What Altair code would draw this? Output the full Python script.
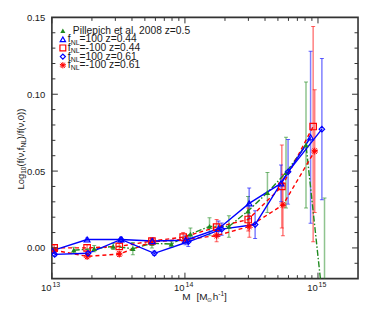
import altair as alt
import pandas as pd

# ---------------- data ----------------
# Pillepich et al. 2008 z=0.5 (green, filled triangles, dash-dot)
pil_m = [1.46e13, 2.08e13, 2.89e13, 4.06e13, 5.65e13, 7.91e13, 1.10e14, 1.53e14,
         2.14e14, 2.98e14, 4.17e14, 5.75e14, 8.13e14, 1.12e15]
pil_v = [-0.0015, -0.0005, 0.001, -0.0005, 0.003, 0.0025, 0.009, 0.014,
         0.014, 0.024, 0.036, 0.049, 0.067, -0.045]
pil_e = [0.002, 0.002, 0.002, 0.004, 0.003, 0.002, 0.004, 0.0057,
         0.007, 0.0095, 0.013, 0.023, 0.041, 0.0775]

# fNL=100 z=0.44 (blue open triangles, solid)
p44_m = [1.01e13, 1.84e13, 3.31e13, 5.68e13, 1.01e14, 1.79e14, 3.04e14, 5.27e14, 8.8e14]
p44_v = [-0.0018, 0.0055, 0.0055, 0.0045, 0.005, 0.0125, 0.029, 0.042, 0.072]
p44_e = [0.001, 0.001, 0.0015, 0.002, 0.003, 0.005, 0.010, 0.012, 0.056]

# fNL=-100 z=0.44 (red open squares, dashed)
m44_m = [1.04e13, 1.84e13, 3.21e13, 5.65e13, 9.7e13, 1.73e14, 2.99e14, 5.35e14, 9.2e14]
m44_v = [0.0, 0.0, 0.001, 0.0045, 0.007, 0.0135, 0.0185, 0.040, 0.079]
m44_eu = [0.002, 0.002, 0.002, 0.002, 0.003, 0.005, 0.0075, 0.027, 0.065]
m44_ed = [0.002, 0.002, 0.002, 0.002, 0.003, 0.005, 0.0075, 0.027, 0.075]

# fNL=100 z=0.61 (blue open diamonds, solid)
p61_m = [1.05e13, 1.87e13, 3.31e13, 5.89e13, 1.06e14, 1.89e14, 3.37e14, 5.96e14, 1.07e15]
p61_v = [-0.0042, -0.0035, 0.0055, -0.0035, 0.004, 0.0122, 0.0152, 0.0495, 0.0773]
p61_e = [0.001, 0.001, 0.0015, 0.0015, 0.003, 0.004, 0.009, 0.021, 0.046]

# fNL=-100 z=0.61 (red asterisks, dashed)
m61_m = [1.04e13, 1.84e13, 3.21e13, 5.65e13, 1.01e14, 1.73e14, 3.05e14, 5.45e14, 9.45e14]
m61_v = [-0.0015, -0.0055, -0.004, 0.004, 0.0055, 0.008, 0.014, 0.028, 0.063]
m61_e = [0.0015, 0.0015, 0.0015, 0.002, 0.002, 0.004, 0.007, 0.02, 0.04]

x_major = [1e13, 1e14, 1e15]
x_exp = ["13", "14", "15"]
x_minor = [2e13, 3e13, 4e13, 5e13, 6e13, 7e13, 8e13, 9e13,
           2e14, 3e14, 4e14, 5e14, 6e14, 7e14, 8e14, 9e14]
y_major = [0.0, 0.05, 0.10]
y_minor = [-0.01, 0.01, 0.02, 0.03, 0.04, 0.06, 0.07, 0.08, 0.09,
           0.11, 0.12, 0.13, 0.14]
y_labels = [0.0, 0.05, 0.10, 0.15]

# ---------------- styling ----------------
W, H = 307, 262
FONT = "Liberation Sans"
TXT = "#1a1a1a"
FR = "#333333"
GREEN, RED, BLUE = "#1f8a1f", "#ff0000", "#0000ff"
ASTERISK = "M0,-1L0,1M-0.95,-0.31L0.95,0.31M-0.95,0.31L0.95,-0.31M-0.59,-0.81L0.59,0.81M-0.59,0.81L0.59,-0.81"

xscale = alt.Scale(type="log", domain=[1e13, 2e15], nice=False)
yscale = alt.Scale(domain=[-0.02, 0.15], nice=False, zero=False)
yaxis = alt.Axis(values=y_labels, format=".2f", ticks=False, domain=False, grid=False,
                 title=None, labelFont=FONT, labelFontSize=9.5, labelColor=TXT,
                 labelPadding=7)


def frame(m, v, eu, ed):
    return pd.DataFrame({"M": m, "v": v,
                         "lo": [a - b for a, b in zip(v, ed)],
                         "hi": [a + b for a, b in zip(v, eu)]})


series = [
    (frame(pil_m, pil_v, pil_e, pil_e), GREEN, [6, 2, 1.5, 2], "triangle-up", True, 30, 1.2),
    (frame(m44_m, m44_v, m44_eu, m44_ed), RED, [4, 3], "square", False, 42, 1.2),
    (frame(m61_m, m61_v, m61_e, m61_e), RED, [4, 3], ASTERISK, False, 48, 1.0),
    (frame(p44_m, p44_v, p44_e, p44_e), BLUE, None, "triangle-up", False, 34, 1.2),
    (frame(p61_m, p61_v, p61_e, p61_e), BLUE, None, "diamond", False, 30, 1.2),
]

X = alt.X("M:Q", scale=xscale, axis=None)
layers = []

# error bars
for df, col, dash, shape, filled, size, sw in series:
    base = alt.Chart(df)
    layers.append(base.mark_rule(color=col, opacity=0.5, strokeWidth=1.5, clip=True).encode(
        x=X, y=alt.Y("lo:Q", scale=yscale, axis=yaxis), y2="hi:Q"))
    for f in ["lo", "hi"]:
        layers.append(base.mark_tick(color=col, opacity=0.6, orient="horizontal", size=4,
                                     thickness=1, clip=True).encode(
            x=X, y=alt.Y(f + ":Q", scale=yscale, axis=yaxis)))

# lines
for df, col, dash, shape, filled, size, sw in series:
    kw = dict(color=col, strokeWidth=1.4, clip=True)
    if dash:
        kw["strokeDash"] = dash
    layers.append(alt.Chart(df).mark_line(**kw).encode(
        x=X, y=alt.Y("v:Q", scale=yscale, axis=yaxis)))

# markers
for df, col, dash, shape, filled, size, sw in series:
    layers.append(alt.Chart(df).mark_point(color=col, shape=shape, filled=filled, size=size,
                                           strokeWidth=sw, opacity=1, clip=True).encode(
        x=X, y=alt.Y("v:Q", scale=yscale, axis=yaxis)))

# inward ticks on all four sides
xmaj = pd.DataFrame({"t": x_major})
xmin = pd.DataFrame({"t": x_minor})
ymaj = pd.DataFrame({"t": y_major})
ymin = pd.DataFrame({"t": y_minor})
for d, ln in [(xmaj, 6), (xmin, 3.5)]:
    layers.append(alt.Chart(d).mark_rule(color=FR, strokeWidth=1).encode(
        x=alt.X("t:Q", scale=xscale, axis=None), y=alt.value(H), y2=alt.value(H - ln)))
    layers.append(alt.Chart(d).mark_rule(color=FR, strokeWidth=1).encode(
        x=alt.X("t:Q", scale=xscale, axis=None), y=alt.value(0), y2=alt.value(ln)))
for d, ln in [(ymaj, 6), (ymin, 3.5)]:
    layers.append(alt.Chart(d).mark_rule(color=FR, strokeWidth=1).encode(
        y=alt.Y("t:Q", scale=yscale, axis=yaxis), x=alt.value(0), x2=alt.value(ln)))
    layers.append(alt.Chart(d).mark_rule(color=FR, strokeWidth=1).encode(
        y=alt.Y("t:Q", scale=yscale, axis=yaxis), x=alt.value(W), x2=alt.value(W - ln)))

# x tick labels 10^n
xl = pd.DataFrame({"t": x_major, "e": x_exp})
layers.append(alt.Chart(xl).mark_text(text="10", font=FONT, fontSize=9.5, color=TXT,
                                      align="right", baseline="alphabetic", dx=-0.3).encode(
    x=alt.X("t:Q", scale=xscale, axis=None), y=alt.value(H + 12.7)))
layers.append(alt.Chart(xl).mark_text(font=FONT, fontSize=7, color=TXT,
                                      align="left", baseline="alphabetic", dx=0.6).encode(
    x=alt.X("t:Q", scale=xscale, axis=None), y=alt.value(H + 8), text="e:N"))

dummy = pd.DataFrame({"a": [0]})


def txt(s, x, y, size, dx=0, dy=0, angle=0, baseline="middle"):
    return alt.Chart(dummy).mark_text(text=s, font=FONT, fontSize=size, color=TXT,
                                      align="left", baseline=baseline, dx=dx, dy=dy,
                                      angle=angle).encode(x=alt.value(x), y=alt.value(y))


# x title: M [M_sun h^-1]
tx, ty = 130.7, H + 21.5
layers += [
    txt("M", tx, ty, 10, baseline="alphabetic"),
    txt("[M", tx, ty, 10, dx=14.3, baseline="alphabetic"),
    txt("\u2299", tx, ty, 6.5, dx=25.0, dy=1.8, baseline="alphabetic"),
    txt("h", tx, ty, 10, dx=30.6, baseline="alphabetic"),
    txt("-1", tx, ty, 6.5, dx=36.2, dy=-4, baseline="alphabetic"),
    txt("]", tx, ty, 10, dx=41.8, baseline="alphabetic"),
]

# y title: Log10(f(nu,fNL)/f(nu,0)), rotated
ax_, ay_ = -31, 172.7
layers += [
    txt("Log", ax_, ay_, 9.5, angle=270),
    txt("10", ax_, ay_, 6.5, dx=15.8, dy=3, angle=270),
    txt("(f(\u03bd,f", ax_, ay_, 9.5, dx=23.2, angle=270),
    txt("NL", ax_, ay_, 6.5, dx=42.2, dy=3, angle=270),
    txt(")/f(\u03bd,0))", ax_, ay_, 9.5, dx=50.6, angle=270),
]

# legend
rows = [13.4, 22.0, 30.6, 39.3, 48.0]
leg = [
    (GREEN, "triangle-up", True, 26, 1.2),
    (BLUE, "triangle-up", False, 28, 1.2),
    (RED, "square", False, 34, 1.2),
    (BLUE, "diamond", False, 26, 1.2),
    (RED, ASTERISK, False, 40, 1.0),
]
rest = ["=100 z=0.44", "=-100 z=0.44", "=100 z=0.61", "=-100 z=0.61"]
for (col, shp, fil, sz, sw), ry in zip(leg, rows):
    layers.append(alt.Chart(dummy).mark_point(color=col, shape=shp, filled=fil, size=sz,
                                              strokeWidth=sw, opacity=1).encode(
        x=alt.value(11), y=alt.value(ry)))
layers.append(txt("Pillepich et al. 2008 z=0.5", 21, rows[0], 10.3))
for ry, r in zip(rows[1:], rest):
    layers += [
        txt("f", 16, ry, 10.3),
        txt("NL", 16, ry, 7, dx=2.9, dy=3.2),
        txt(r, 16, ry, 10.3, dx=11.8),
    ]

chart = alt.layer(*layers).properties(
    width=W, height=H,
    autosize=alt.AutoSizeParams(type="none"),
    padding={"left": 44, "top": 9, "right": 8, "bottom": 30},
).configure_view(stroke=FR, strokeWidth=1.6)

chart.save("out.html", embed_options={"renderer": "svg", "actions": False})
